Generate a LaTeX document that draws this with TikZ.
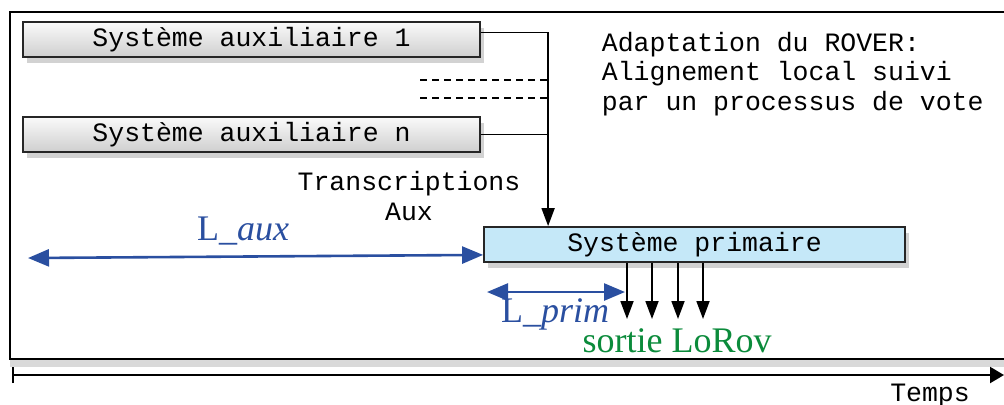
\documentclass[tikz,border=0pt]{standalone}
\usepackage{fontspec}
\setmainfont{Liberation Serif}
\setmonofont{Liberation Mono}
\usepackage{tikz}
\usetikzlibrary{arrows.meta,shadows,positioning}
\definecolor{primblue}{HTML}{C5E8F8}
\definecolor{dimblue}{HTML}{2A4FA0}
\definecolor{outgreen}{HTML}{0B8B3B}

\begin{document}
\begin{tikzpicture}[x=0.5pt,y=-0.5pt,>={Triangle[length=9pt,width=6.5pt]},line width=0.9pt,
  mono/.style={font=\ttfamily\fontsize{13.25}{14.75}\selectfont},
  sys box/.style={draw=black!85,line width=0.9pt,minimum height=17.5pt,inner sep=0pt,mono,drop shadow={opacity=0.35,shadow xshift=2pt,shadow yshift=-3pt}},
  aux box/.style={sys box,top color=gray!4,bottom color=gray!38,minimum width=228.5pt},
  prim box/.style={sys box,fill=primblue,minimum width=210.5pt},
  dim arrow/.style={{Triangle[length=10.5pt,width=8.5pt]}-{Triangle[length=10.5pt,width=8.5pt]},dimblue,line width=1.3pt},
  dim label/.style={dimblue,font=\fontsize{18}{20}\selectfont},
  bus dash/.style={dash pattern=on 3.5pt off 2.5pt}]
  \clip (0,0) rectangle (1004,404);
  % frame and time axis
  \draw[line width=1.2pt,fill=white,drop shadow={opacity=0.3,shadow xshift=0pt,shadow yshift=-4pt}] (10,12) rectangle (1030,359);
  \coordinate (t0) at (12,375);
  \coordinate (t1) at (1004,375);
  \draw[line width=1.1pt,{Bar[width=8pt]}-{Triangle[length=7pt,width=8pt]}] (t0) -- (t1);
  \node[mono,anchor=base] (temps) at (930,401) {Temps};

  % systems
  \node[aux box] (aux1) at (251.5,39.5) {Système auxiliaire 1};
  \node[aux box] (auxn) at (251.5,134.5) {Système auxiliaire n};
  \node[prim box] (prim) at (694.5,244.5) {Système primaire};

  \node[mono,align=left,anchor=west,inner sep=0pt] (rover) at (601,74) {Adaptation du ROVER:\\Alignement local suivi\\par un processus de vote};
  \node[mono,align=center] (trans) at (409,196) {Transcriptions\\Aux};

  % links to the primary system
  \coordinate (bus) at ([xshift=32.5pt]prim.north west);
  \draw[->] ([yshift=3.5pt]aux1.east) -| (bus);
  \draw (auxn.east) -- (auxn.east -| bus);
  \coordinate (d1) at (420,80);
  \coordinate (d2) at (420,98);
  \draw[bus dash] (d1) -- (d1 -| bus);
  \draw[bus dash] (d2) -- (d2 -| bus);

  % outputs
  \foreach \x in {627,652,678,703}
    \draw[->] (\x,0 |- prim.south) -- (\x,319);
  \node[outgreen,font=\fontsize{18}{20}\selectfont] (sortie) at (677,341) {sortie LoRov};

  % lengths
  \coordinate (lauxw) at (28,258);
  \draw[dim arrow] (lauxw) -- ([yshift=4pt]prim.south west);
  \node[dim label] (laux) at (243,231) {L\_\textit{aux}};
  \coordinate (lprimw) at (487,292);
  \coordinate (lprime) at (625,292);
  \draw[dim arrow] (lprimw) -- (lprime);
  \node[dim label] (lprim) at (555,314) {L\_\textit{prim}};
\end{tikzpicture}
\end{document}
